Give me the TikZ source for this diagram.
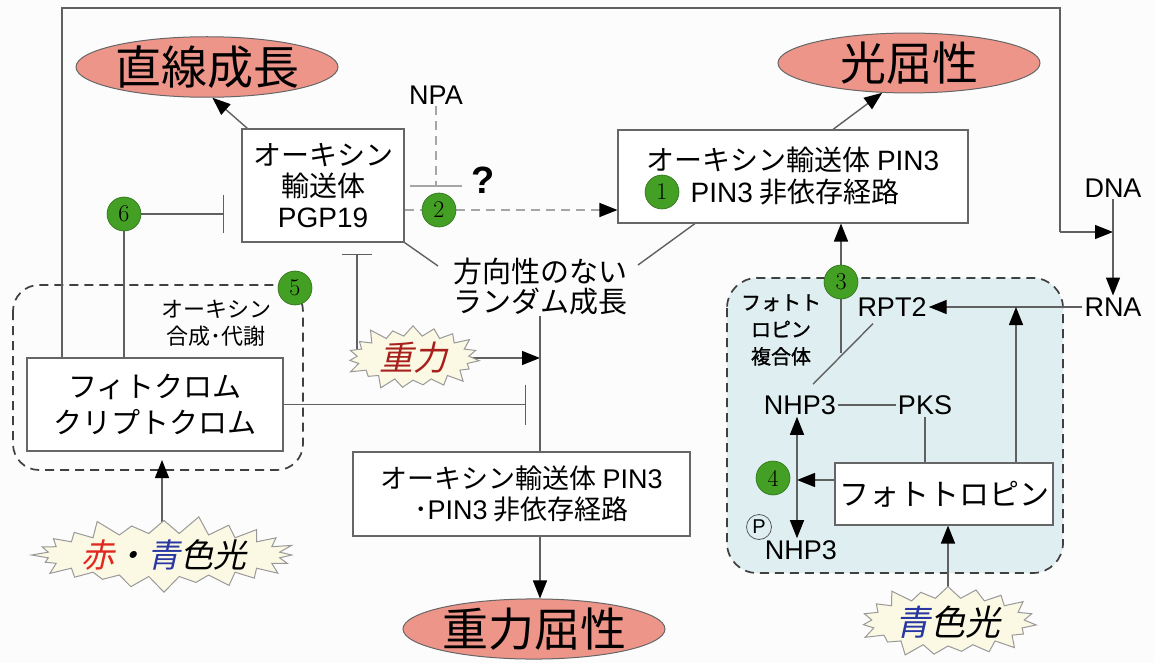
\documentclass[tikz,border=0pt]{standalone}
\usepackage{fontspec}
\newfontfamily\jp{Noto Sans CJK JP}
\newfontfamily\jpit[FakeSlant=0.22]{Noto Sans CJK JP}
\newfontfamily\jpb[FakeBold=1.2]{Noto Sans CJK JP}
\newfontfamily\lat{Liberation Sans}
\usetikzlibrary{shapes.geometric,shapes.symbols,arrows.meta}
\pgfdeclarelayer{bg}
\pgfsetlayers{bg,main}
\definecolor{salmon}{HTML}{EE958A}
\definecolor{lgreen}{HTML}{44A024}
\definecolor{dgreen}{HTML}{2E6E1A}
\definecolor{cream}{HTML}{FBF8E4}
\definecolor{lblue}{HTML}{DFEEF0}
\definecolor{lncol}{HTML}{606060}
\definecolor{jred}{HTML}{E0281E}
\definecolor{jblue}{HTML}{2838A0}
\definecolor{jdred}{HTML}{A8201C}
\newcommand{\fsz}[2]{\fontsize{#1}{#2}\selectfont}
\begin{document}
\begin{tikzpicture}[x=1pt,y=-1pt,
 >={Triangle[length=18pt,width=14pt,color=black]},
 ln/.style={draw=lncol,line width=1.4pt},
 dashln/.style={draw=gray!70,line width=1.6pt,dash pattern=on 9pt off 6pt},
 dbox/.style={draw=black!75,line width=1.7pt,dash pattern=on 9pt off 6pt},
 boxnode/.style={draw=gray!80!black,fill=white,line width=1.1pt,inner sep=0pt,align=center,font=\jp\fsz{28}{31}},
 ell/.style={ellipse,draw=gray!80!black,fill=salmon,line width=1pt,minimum width=262pt,minimum height=60pt,inner sep=0pt,font=\jp\fsz{46}{46}},
 num/.style={circle,fill=lgreen,draw=dgreen,line width=0.6pt,minimum size=34pt,inner sep=0pt,font=\fsz{24}{24}},
 burst/.style={starburst,fill=cream,draw=gray!80,line width=1pt,inner sep=0pt},
 lbl/.style={inner sep=2pt,font=\lat\fsz{27}{27}},
]
\useasboundingbox (0,0) rectangle (1154,663);

% ellipses
\node[ell] (ellS) at (207,67) {直線成長};
\node[ell,minimum height=57pt] (ellP) at (909,63) {光屈性};
\node[ell] (ellG) at (534,629) {重力屈性};

% boxes
\node[boxnode,minimum width=162pt,minimum height=113pt] (pgp) at (323,185.5) {オーキシン\\輸送体\\{\lat PGP19}};
\node[boxnode,minimum width=350pt,minimum height=93pt,font=\jp\fsz{28}{32}] (pin3a) at (793,176.5) {オーキシン輸送体 {\lat PIN3}\\\hspace*{4pt}{\lat PIN3} 非依存経路};
\node[boxnode,minimum width=337pt,minimum height=84pt,font=\jp\fsz{27}{31}] (pin3b) at (521.5,494) {オーキシン輸送体 {\lat PIN3}\\･{\lat PIN3} 非依存経路};
\node[boxnode,minimum width=256pt,minimum height=93pt,font=\jp\fsz{29}{36}] (phy) at (155,404.5) {フィトクロム\\クリプトクロム};
\node[boxnode,minimum width=218pt,minimum height=62pt,font=\jp\fsz{30}{30}] (photo) at (944,494) {フォトトロピン};

% numbers
\node[num] (c1) at (662,192) {1};
\node[num] (c2) at (439,210) {2};
\node[num] (c3) at (841,282) {3};
\node[num] (c4) at (773,478) {4};
\node[num] (c5) at (295,288) {5};
\node[num] (c6) at (124,214) {6};

% labels
\node[lbl] (npa) at (436,95) {NPA};
\node[inner sep=0pt,font=\lat\bfseries\fsz{38}{38}] (q) at (483,180) {?};
\node[font=\jp\fsz{29}{30},align=center,inner sep=0pt] (rand) at (540,287) {方向性のない\\ランダム成長};
\node[font=\jp\fsz{22}{27},align=center,inner sep=0pt] (syn) at (216,323) {オーキシン\\合成･代謝};
\node[font=\jpb\fsz{20}{27},align=center,inner sep=0pt] (cplx) at (781,330) {フォトト\\ロピン\\複合体};
\node[lbl] (rpt2) at (892,307) {RPT2};
\node[lbl] (nhp3) at (800,405) {NHP3};
\node[lbl] (pks) at (925,405) {PKS};
\node[lbl] (pnhp3) at (801,550) {NHP3};
\node[circle,draw=gray!70!black,line width=0.8pt,inner sep=0pt,minimum size=25pt,font=\lat\fsz{20}{20}] (pc) at (759,527) {P};
\node[lbl] (dna) at (1113,188) {DNA};
\node[lbl] (rna) at (1113,307) {RNA};

% starbursts
\node[burst,minimum width=140pt,minimum height=72pt,starburst points=19,starburst point height=14pt,font=\jpit\fsz{34}{34},text=jdred] (grav) at (413,358) {重力};
\node[burst,minimum width=262pt,minimum height=78pt,starburst points=24,starburst point height=18pt,font=\jpit\fsz{33}{33}] (rb) at (164,555) {\textcolor{jred}{赤}・\textcolor{jblue}{青}色光};
\node[burst,minimum width=185pt,minimum height=80pt,starburst points=19,starburst point height=16pt,font=\jpit\fsz{35}{35}] (blue) at (948,622) {\textcolor{jblue}{青}色光};

% helper coordinates
\coordinate (lt) at (62,8);
\coordinate (rt) at (1060,8);
\coordinate (rj) at (1060,232);
\coordinate (npabar) at (436,187);
\coordinate (randA) at (438,266);
\coordinate (randB) at (638,265);
\coordinate (gbar) at (357,254);
\coordinate (pbar) at (526,405);
\coordinate (rbtip) at (162,460);
\coordinate (c3end) at (841,353);
\coordinate (vx4) at (797,480);

\begin{pgfonlayer}{bg}
\fill[white!98!gray] (0,0) rectangle (1154,663);
\draw[dbox,fill=lblue,rounded corners=30pt] (727,278) rectangle (1063,573);
\draw[dbox,rounded corners=26pt] (13,285) rectangle (303,470);

% frame to DNA
\draw[ln] (phy.north -| lt) -- (lt) -- (rt) -- (rj);
\draw[ln,->] (rj) -- (rj -| dna);
\draw[ln,->] (dna.south) -- (rna.north);
% PGP19
\draw[ln,->] ([xshift=6pt]pgp.north west) -- (ellS.-80);
\draw[dashln,-{Bar[width=52pt,color=gray!70]}] (npa.south) -- (npabar);
\draw[dashln] (pgp.east |- c2) -- (c2);
\draw[dashln,->] (c2) -- (c2 -| pin3a.west);
\draw[ln] (pgp.south east) -- (randA);
\draw[ln] ([xshift=-98pt]pin3a.south) -- (randB);
\draw[ln,->] ([xshift=40pt]pin3a.north) -- (ellP.-132);
\draw[ln,-{Bar[width=38pt]}] (c6) -- ([xshift=-17pt]pgp.west |- c6);
\draw[ln] (c6) -- (c6 |- phy.north);
% gravity
\draw[ln,-{Bar[width=30pt]}] (gbar |- grav.center) -- (gbar);
\draw[ln,->] (grav.center) -- (grav.center -| rand.south);
\draw[ln] (rand.south) -- (rand.south |- pin3b.north);
\draw[ln,->] (rand.south |- pin3b.south) -- (rand.south |- ellG.north);
\draw[ln,-{Bar[width=40pt]}] (phy.east) -- (phy.east -| pbar);
\draw[ln,->] (rb.center -| rbtip) -- (rbtip);
% phototropin complex
\draw[ln,->] (c3) -- (c3 |- pin3a.south);
\draw[ln] (c3) -- (c3end);
\draw[ln,->] (rna.west) -- (rpt2.east);
\draw[ln] ([xshift=-19pt,yshift=-5pt]rpt2.south) -- ([xshift=13pt,yshift=9pt]nhp3.north);
\draw[ln] (nhp3.east) -- (pks.west);
\draw[ln] (pks.south) -- (pks.south |- photo.north);
\draw[ln,->] ([xshift=72pt]photo.north) -- ([xshift=72pt]photo.north |- rpt2.east);
\draw[ln,->] (vx4 -| photo.west) -- (vx4);
\draw[ln,<->] (vx4 |- nhp3.south) -- (vx4 |- pnhp3.north);
\draw[ln,->] (blue.center) -- (blue.center |- photo.south);
\end{pgfonlayer}
\end{tikzpicture}
\end{document}
